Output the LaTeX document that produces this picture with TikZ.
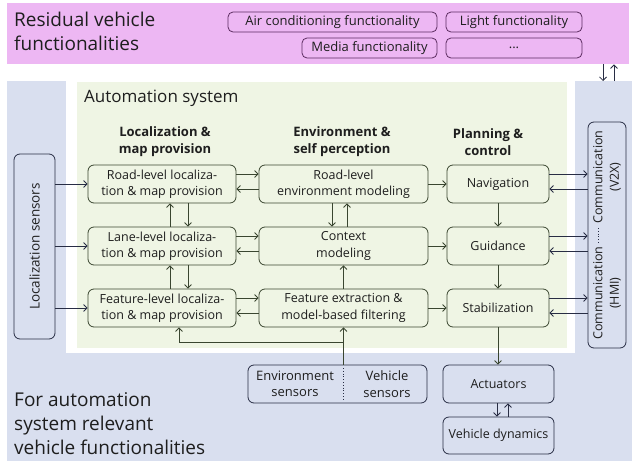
\documentclass[tikz,border=0pt]{standalone}
\usepackage{fontspec}
\setmainfont{Open Sans}
\usetikzlibrary{positioning,arrows.meta}
\definecolor{pinkbg}{RGB}{237,183,243}
\definecolor{bluebg}{RGB}{217,223,239}
\definecolor{greenbg}{RGB}{239,245,228}
\definecolor{gline}{RGB}{58,70,48}
\definecolor{bline}{RGB}{40,45,68}
\definecolor{pline}{RGB}{92,44,96}
\definecolor{txt}{RGB}{30,30,30}
\newcommand{\cellfont}{\fontsize{12.5}{16.5}\selectfont}
\newcommand{\headfont}{\fontsize{13}{17}\selectfont\bfseries}
\newcommand{\pinkfont}{\fontsize{13}{15}\selectfont}
\newcommand{\bigfont}{\fontsize{19}{24}\selectfont}
\newcommand{\titlefont}{\fontsize{17}{20}\selectfont}
\begin{document}
\begin{tikzpicture}[x=1pt,y=-1pt,>={Straight Barb[length=3.5pt,width=7pt]},
  every node/.style={text=txt},
  gbox/.style={draw=gline,line width=0.8pt,fill=greenbg,rounded corners=6pt,align=center,inner sep=0pt,minimum height=38pt,font=\cellfont},
  bbox/.style={draw=bline,line width=0.8pt,fill=bluebg,rounded corners=6pt,align=center,inner sep=0pt,font=\cellfont},
  pbox/.style={draw=pline,line width=0.8pt,fill=pinkbg,rounded corners=5pt,inner sep=0pt,minimum height=20pt,font=\pinkfont},
  head/.style={font=\cellfont,align=center,inner sep=0pt},
  big/.style={font=\bigfont,align=left,anchor=west,inner sep=0pt},
  garr/.style={->,draw=gline,line width=0.8pt},
  barr/.style={->,draw=bline,line width=0.8pt}]
 \useasboundingbox (0,0) rectangle (632,461);
 % background areas
 \node[fill=pinkbg,minimum width=622pt,minimum height=61pt,anchor=north west,inner sep=0pt] (resid) at (7,3) {};
 \node[fill=bluebg,minimum width=625pt,minimum height=380pt,anchor=north west,inner sep=0pt] (autoveh) at (7,81) {};
 \fill[white] (66,81) rectangle (575,353);
 \node[fill=greenbg,minimum width=490pt,minimum height=266pt,anchor=north west,inner sep=0pt] (autosys) at (77,82) {};
 % area titles
 \node[big] (residtxt) at (14,31) {Residual vehicle\\functionalities};
 \node[big] (forauto) at (14,424) {For automation\\system relevant\\vehicle functionalities};
 \node[font=\titlefont,anchor=west,inner sep=0pt] (autotitle) at (84,98) {Automation system};
 % residual functionalities
 \node[pbox,minimum width=209pt] (aircon) at (332.5,22) {Air conditioning functionality};
 \node[pbox,minimum width=136pt] (light) at (514,22) {Light functionality};
 \node[pbox,minimum width=135pt] (media) at (369.5,48) {Media functionality};
 \node[pbox,minimum width=136pt] (more) at (514,48) {...};
 % column headers
 \node[head,font=\headfont] (hloc) at (165,142) {Localization \&\\map provision};
 \node[head,font=\headfont] (henv) at (342,142) {Environment \&\\self perception};
 \node[head,font=\headfont] (hplan) at (488,142) {Planning \&\\control};
 % localization column
 \node[gbox,minimum width=148pt] (l1) at (162,184) {Road-level localiza-\\tion \& map provision};
 \node[gbox,minimum width=148pt] (l2) at (162,246) {Lane-level localiza-\\tion \& map provision};
 \node[gbox,minimum width=148pt] (l3) at (162,308) {Feature-level localiza-\\tion \& map provision};
 % perception column
 \node[gbox,minimum width=169pt] (e1) at (343.5,184) {Road-level\\environment modeling};
 \node[gbox,minimum width=169pt] (e2) at (343.5,246) {Context\\modeling};
 \node[gbox,minimum width=169pt] (e3) at (343.5,308) {Feature extraction \&\\model-based filtering};
 % planning column
 \node[gbox,minimum width=102pt] (p1) at (498,184) {Navigation};
 \node[gbox,minimum width=102pt] (p2) at (498,246) {Guidance};
 \node[gbox,minimum width=102pt] (p3) at (498,308) {Stabilization};
 % sensors, communication, actuators
 \node[bbox,rotate=90,minimum width=185pt,minimum height=41pt,font=\fontsize{13.5}{16}\selectfont] (locsens) at (34.5,246.5) {Localization sensors};
 \node[bbox,rotate=90,minimum width=226pt,minimum height=38pt] (comm) at (607,235) {};
 \node[head,rotate=90] (v2x) at (607,177) {Communication\\(V2X)};
 \node[head,rotate=90] (hmi) at (607,293) {Communication\\(HMI)};
 \draw[bline,dotted,line width=0.8pt] (598,228) -- (598,243);
 \node[bbox,minimum width=179pt,minimum height=38pt] (sens) at (337.5,384) {};
 \node[head,font=\fontsize{13}{16.5}\selectfont] (envsens) at (295,384) {Environment\\sensors};
 \node[head,font=\fontsize{13}{16.5}\selectfont] (vehsens) at (387,384) {Vehicle\\sensors};
 \draw[bline,dotted,line width=0.8pt] (343,368) -- (343,400);
 \node[bbox,minimum width=111pt,minimum height=38pt] (act) at (498.5,384) {Actuators};
 \node[bbox,minimum width=111pt,minimum height=37pt] (vdyn) at (498.5,435.5) {Vehicle dynamics};
 % residual <-> communication
 \draw[barr] (resid.south -| 603,0) -- (autoveh.north -| 603,0);
 \draw[barr] (autoveh.north -| 614,0) -- (resid.south -| 614,0);
 % sensors -> localization
 \foreach \r in {l1,l2,l3}
  \draw[barr] (locsens.south |- \r.west) -- (\r.west);
 % localization <-> perception, perception -> planning
 \foreach \a/\b/\c in {l1/e1/p1,l2/e2/p2,l3/e3/p3} {
  \draw[garr] ([yshift=10pt]\a.east) -- ([yshift=10pt]\b.west);
  \draw[garr] ([yshift=-5pt]\b.west) -- ([yshift=-5pt]\a.east);
  \draw[garr] (\b.east) -- (\c.west);
  \draw[barr] ([yshift=10pt]\c.east) -- ([yshift=10pt]\c.east -| comm.north);
  \draw[barr] ([yshift=-5pt]\c.east -| comm.north) -- ([yshift=-5pt]\c.east);
 }
 % vertical links
 \foreach \u/\d in {l1/l2,l2/l3} {
  \draw[garr] ([xshift=8pt]\d.north) -- ([xshift=8pt]\u.south);
  \draw[garr] ([xshift=26pt]\u.south) -- ([xshift=26pt]\d.north);
 }
 \draw[garr] ([xshift=-11.5pt]e1.south) -- ([xshift=-11.5pt]e2.north);
 \draw[garr] ([xshift=3.5pt]e2.north) -- ([xshift=3.5pt]e1.south);
 \draw[garr] (e3.north) -- (e2.south);
 \draw[garr] (p1.south) -- (p2.north);
 \draw[garr] (p2.south) -- (p3.north);
 \draw[garr] (p3.south) -- (act.north -| p3.south);
 % sensors -> feature level
 \coordinate (jn) at (e3.south |- 0,342);
 \draw[garr] (sens.north -| e3.south) -- (e3.south);
 \draw[garr] (jn) -| ([xshift=17pt]l3.south);
 % actuators <-> vehicle dynamics
 \draw[barr] ([xshift=-1.5pt]act.south) -- ([xshift=-1.5pt]vdyn.north);
 \draw[barr] ([xshift=9.5pt]vdyn.north) -- ([xshift=9.5pt]act.south);
\end{tikzpicture}
\end{document}
